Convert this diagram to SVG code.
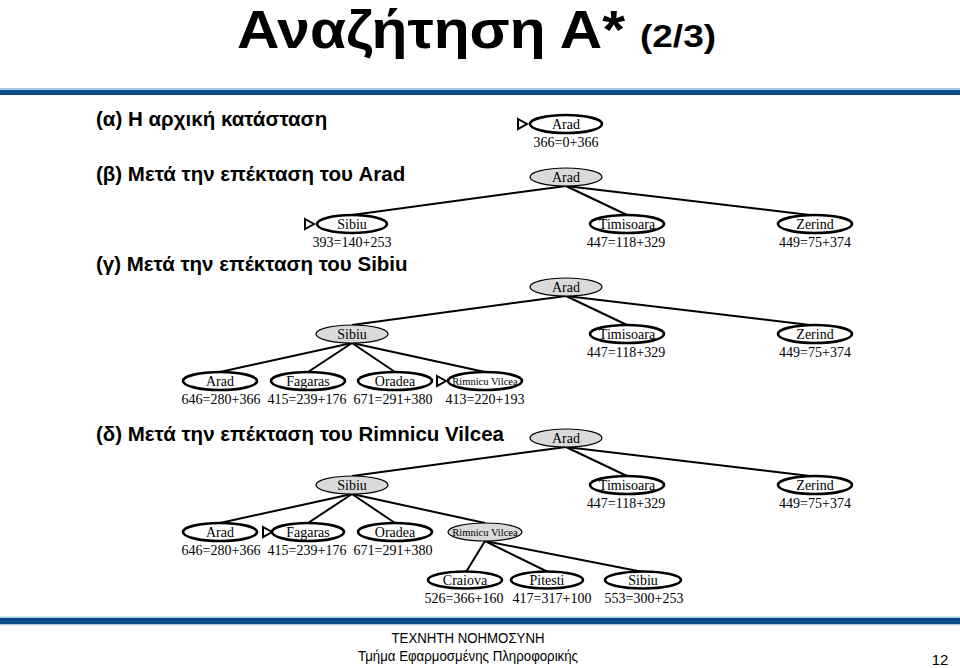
<svg xmlns="http://www.w3.org/2000/svg" width="960" height="668" viewBox="0 0 960 668">
<style>
.title{font-family:"Liberation Sans",Arial,sans-serif;font-weight:bold;fill:#000}
.lab{font-family:"Liberation Sans",Arial,sans-serif;font-weight:bold;font-size:20.5px;fill:#000}
.nt{font-family:"Liberation Serif","Times New Roman",serif;font-size:14px;text-anchor:middle;fill:#000}
.sm{font-size:10.5px}
.num{font-family:"Liberation Serif","Times New Roman",serif;font-size:14px;text-anchor:middle;fill:#000}
.fr{fill:#fff;stroke:#000;stroke-width:2.6}
.ex{fill:#dadada;stroke:#000;stroke-width:1.2}
.tri{fill:#fff;stroke:#000;stroke-width:2}
.edges line{stroke:#000;stroke-width:2}
.foot{font-family:"Liberation Sans",Arial,sans-serif;font-size:15px;text-anchor:middle;fill:#000}
</style>
<rect width="960" height="668" fill="#fff"/>
<text class="title" x="237" y="48" font-size="53" textLength="388" lengthAdjust="spacingAndGlyphs">Αναζήτηση Α*</text>
<text class="title" x="640" y="47" font-size="32" textLength="76" lengthAdjust="spacingAndGlyphs">(2/3)</text>
<rect x="0" y="88" width="960" height="2" fill="#a7cde8"/>
<rect x="0" y="90" width="960" height="5" fill="#0f4c8c"/>
<rect x="0" y="616.5" width="960" height="1.5" fill="#a7cde8"/>
<rect x="0" y="618" width="960" height="6" fill="#0f4c8c"/>
<rect x="0" y="624" width="960" height="1.2" fill="#a7cde8"/>

<text class="lab" x="96" y="126">(α) Η αρχική κατάσταση</text>
<text class="lab" x="96" y="181">(β) Μετά την επέκταση του Arad</text>
<text class="lab" x="96" y="271">(γ) Μετά την επέκταση του Sibiu</text>
<text class="lab" x="96" y="441">(δ) Μετά την επέκταση του Rimnicu Vilcea</text>

<g class="edges">
<line x1="566" y1="186" x2="352" y2="215"/>
<line x1="566" y1="186" x2="627" y2="215"/>
<line x1="566" y1="186" x2="810" y2="215"/>
<line x1="566" y1="296" x2="352" y2="325"/>
<line x1="566" y1="296" x2="627" y2="325"/>
<line x1="566" y1="296" x2="810" y2="325"/>
<line x1="352" y1="343" x2="220" y2="372"/>
<line x1="352" y1="343" x2="308" y2="372"/>
<line x1="352" y1="343" x2="395" y2="372"/>
<line x1="352" y1="343" x2="485" y2="372"/>
<line x1="566" y1="447" x2="352" y2="476"/>
<line x1="566" y1="447" x2="627" y2="476"/>
<line x1="566" y1="447" x2="810" y2="476"/>
<line x1="352" y1="494" x2="220" y2="523"/>
<line x1="352" y1="494" x2="308" y2="523"/>
<line x1="352" y1="494" x2="395" y2="523"/>
<line x1="352" y1="494" x2="485" y2="523"/>
<line x1="485" y1="541" x2="466" y2="572"/>
<line x1="485" y1="541" x2="548" y2="572"/>
<line x1="485" y1="541" x2="643" y2="572"/>
</g>

<!-- (a) -->
<g id="a-arad"><polygon class="tri" points="518,119 527,124 518,129"/><ellipse class="fr" cx="566" cy="124" rx="36" ry="9"/><text class="nt" x="566" y="129">Arad</text><text class="num" x="566" y="147">366=0+366</text></g>

<!-- (b) -->
<g id="b-arad"><ellipse class="ex" cx="566" cy="177" rx="36" ry="9"/><text class="nt" x="566" y="182">Arad</text></g>
<g id="b-sibiu"><polygon class="tri" points="305,219 314,224 305,229"/><ellipse class="fr" cx="352" cy="224" rx="35" ry="9"/><text class="nt" x="352" y="229">Sibiu</text><text class="num" x="352" y="247">393=140+253</text></g>
<g id="b-tim"><ellipse class="fr" cx="627" cy="224" rx="37" ry="9"/><text class="nt" x="627" y="229">Timisoara</text><text class="num" x="626" y="247">447=118+329</text></g>
<g id="b-zer"><ellipse class="fr" cx="815" cy="224" rx="37" ry="9"/><text class="nt" x="815" y="229">Zerind</text><text class="num" x="815" y="247">449=75+374</text></g>

<!-- (c) -->
<g id="c-arad"><ellipse class="ex" cx="566" cy="287" rx="36" ry="9"/><text class="nt" x="566" y="292">Arad</text></g>
<g id="c-sibiu"><ellipse class="ex" cx="352" cy="334" rx="36" ry="9"/><text class="nt" x="352" y="339">Sibiu</text></g>
<g id="c-tim"><ellipse class="fr" cx="627" cy="334" rx="37" ry="9"/><text class="nt" x="627" y="339">Timisoara</text><text class="num" x="626" y="357">447=118+329</text></g>
<g id="c-zer"><ellipse class="fr" cx="815" cy="334" rx="37" ry="9"/><text class="nt" x="815" y="339">Zerind</text><text class="num" x="815" y="357">449=75+374</text></g>
<g id="c-arad2"><ellipse class="fr" cx="220" cy="381" rx="37" ry="9"/><text class="nt" x="220" y="386">Arad</text><text class="num" x="221" y="404">646=280+366</text></g>
<g id="c-fag"><ellipse class="fr" cx="308" cy="381" rx="37" ry="9"/><text class="nt" x="308" y="386">Fagaras</text><text class="num" x="307" y="404">415=239+176</text></g>
<g id="c-ora"><ellipse class="fr" cx="395" cy="381" rx="37" ry="9"/><text class="nt" x="395" y="386">Oradea</text><text class="num" x="393" y="404">671=291+380</text></g>
<g id="c-rv"><polygon class="tri" points="437,376 446,381 437,386"/><ellipse class="fr" cx="485" cy="381" rx="37" ry="9"/><text class="nt sm" x="485" y="385">Rimnicu Vilcea</text><text class="num" x="485" y="404">413=220+193</text></g>

<!-- (d) -->
<g id="d-arad"><ellipse class="ex" cx="566" cy="438" rx="36" ry="9"/><text class="nt" x="566" y="443">Arad</text></g>
<g id="d-sibiu"><ellipse class="ex" cx="352" cy="485" rx="36" ry="9"/><text class="nt" x="352" y="490">Sibiu</text></g>
<g id="d-tim"><ellipse class="fr" cx="627" cy="485" rx="37" ry="9"/><text class="nt" x="627" y="490">Timisoara</text><text class="num" x="626" y="508">447=118+329</text></g>
<g id="d-zer"><ellipse class="fr" cx="815" cy="485" rx="37" ry="9"/><text class="nt" x="815" y="490">Zerind</text><text class="num" x="815" y="508">449=75+374</text></g>
<g id="d-arad2"><ellipse class="fr" cx="220" cy="532" rx="37" ry="9"/><text class="nt" x="220" y="537">Arad</text><text class="num" x="221" y="555">646=280+366</text></g>
<g id="d-fag"><polygon class="tri" points="263,527 272,532 263,537"/><ellipse class="fr" cx="308" cy="532" rx="36" ry="9"/><text class="nt" x="308" y="537">Fagaras</text><text class="num" x="307" y="555">415=239+176</text></g>
<g id="d-ora"><ellipse class="fr" cx="395" cy="532" rx="37" ry="9"/><text class="nt" x="395" y="537">Oradea</text><text class="num" x="393" y="555">671=291+380</text></g>
<g id="d-rv"><ellipse class="ex" cx="485" cy="532" rx="37" ry="9"/><text class="nt sm" x="485" y="536">Rimnicu Vilcea</text></g>
<g id="d-cra"><ellipse class="fr" cx="465" cy="580" rx="37" ry="8.5"/><text class="nt" x="465" y="585">Craiova</text><text class="num" x="464" y="603">526=366+160</text></g>
<g id="d-pit"><ellipse class="fr" cx="547" cy="580" rx="36" ry="8.5"/><text class="nt" x="547" y="585">Pitesti</text><text class="num" x="552" y="603">417=317+100</text></g>
<g id="d-sib"><ellipse class="fr" cx="643" cy="580" rx="38" ry="8.5"/><text class="nt" x="643" y="585">Sibiu</text><text class="num" x="644" y="603">553=300+253</text></g>

<text class="foot" x="468" y="643" textLength="153" lengthAdjust="spacingAndGlyphs">ΤΕΧΝΗΤΗ ΝΟΗΜΟΣΥΝΗ</text>
<text class="foot" x="468" y="661" textLength="220" lengthAdjust="spacingAndGlyphs">Τμήμα Εφαρμοσμένης Πληροφορικής</text>
<text class="foot" x="940" y="665" font-size="21">12</text>
</svg>
